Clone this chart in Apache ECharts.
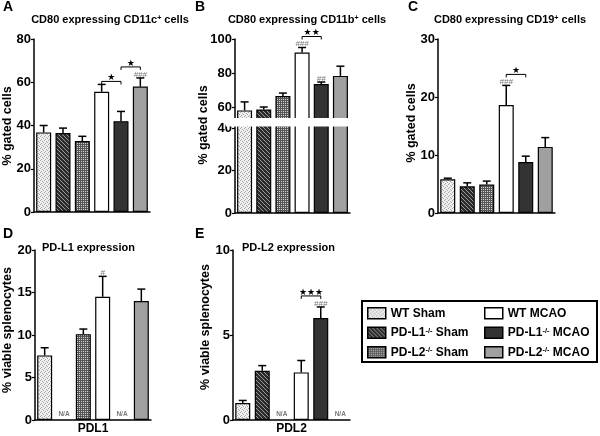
<!DOCTYPE html>
<html><head><meta charset="utf-8">
<script src="https://cdn.jsdelivr.net/npm/echarts@6/dist/echarts.min.js"></script>
<style>html,body{margin:0;padding:0;background:#fff}#c{width:600px;height:436px}</style>
</head><body><div id="c"></div>
<script>
// ---- data ----
const groups = ['WT Sham', 'PD-L1-/- Sham', 'PD-L2-/- Sham', 'WT MCAO', 'PD-L1-/- MCAO', 'PD-L2-/- MCAO'];

const cd11cMean = [36.8, 36.5, 32.8, 55.6, 42.0, 58.0];
const cd11cErr  = [40.0, 38.8, 35.0, 59.0, 46.5, 62.0];
const cd11bMean = [58.0, 58.5, 66.5, 92.0, 73.5, 78.3];
const cd11bErr  = [63.0, 60.0, 68.2, 95.0, 74.7, 84.0];
const cd19Mean  = [5.8, 4.6, 4.9, 18.6, 8.8, 11.4];
const cd19Err   = [6.0, 5.2, 5.5, 22.0, 9.8, 13.0];
const pdl1Mean  = [7.6, null, 10.1, 14.5, null, 14.0];
const pdl1Err   = [8.5, null, 10.7, 16.9, null, 15.4];
const pdl2Mean  = [1.0, 2.9, null, 2.8, 6.0, null];
const pdl2Err   = [1.15, 3.2, null, 3.5, 6.65, null];

const tickA = [0, 20, 40, 60, 80];
const tickBUpper = [60, 80, 100];
const tickBLower = [0, 20, 40];
const tickC = [0, 10, 20, 30];
const tickD = [0, 5, 10, 15, 20];
const tickE = [0, 5, 10];

const hashA = [[5, '###']];
const sigA  = [[3, 4, '★'], [4, 5, '★']];
const hashB = [[3, '###'], [4, '##']];
const sigB  = [[3, 4, '★★']];
const hashC = [[3, '###']];
const sigC  = [[3, 4, '★']];
const hashD = [[3, '#']];
const sigD  = [];
const hashE = [[4, '###']];
const sigE  = [[3, 4, '★★★']];

const titleA = 'CD80 expressing CD11c{sup|+} cells';
const titleB = 'CD80 expressing CD11b{sup|+} cells';
const titleC = 'CD80 expressing CD19{sup|+} cells';
const titleD = 'PD-L1 expression';
const titleE = 'PD-L2 expression';
const yNameTop = '% gated cells';
const yNameBottom = '% viable splenocytes';
const xNameD = 'PDL1';
const xNameE = 'PDL2';
const naText = 'N/A';

// ---- styles ----
const FONT = '"Liberation Sans", Arial, Helvetica, sans-serif';
function pat(bg, fg, pts) {
  const c = document.createElement('canvas');
  c.width = 4; c.height = 4;
  const g = c.getContext('2d');
  g.fillStyle = bg; g.fillRect(0, 0, 4, 4);
  g.fillStyle = fg;
  pts.forEach(p => g.fillRect(p[0], p[1], 1, 1));
  return { image: c, repeat: 'repeat' };
}
const fills = [
  pat('#f0f0f0', '#a8a8a8', [[0, 0], [2, 1], [1, 3], [3, 2]]),
  pat('#2b2b2b', '#9a9a9a', [[0, 0], [1, 1], [2, 2], [3, 3]]),
  pat('#555555', '#d4d4d4', [[1, 1], [3, 3], [1, 3], [3, 1]]),
  '#ffffff', '#333333', '#a0a0a0'
];

const panels = [
  { means: cd11cMean, errs: cd11cErr, hashes: hashA, sigs: sigA,
    axes: [{ left: 34, top: 39, width: 116, height: 173, min: 0, max: 80, ticks: tickA, xLine: true }] },
  { means: cd11bMean, errs: cd11bErr, hashes: hashB, sigs: sigB,
    axes: [{ left: 235, top: 39, width: 115, height: 85, min: 50, max: 100, ticks: tickBUpper, xLine: false },
           { left: 235, top: 123.75, width: 115, height: 89.25, min: 0, max: 42, ticks: tickBLower, xLine: true }] },
  { means: cd19Mean, errs: cd19Err, hashes: hashC, sigs: sigC,
    axes: [{ left: 438, top: 39, width: 117, height: 174, min: 0, max: 30, ticks: tickC, xLine: true }] },
  { means: pdl1Mean, errs: pdl1Err, hashes: hashD, sigs: sigD, na: true,
    axes: [{ left: 35, top: 250, width: 116, height: 174, min: 0, max: 20, ticks: tickD, xLine: true, xName: xNameD }] },
  { means: pdl2Mean, errs: pdl2Err, hashes: hashE, sigs: sigE, na: true,
    axes: [{ left: 233, top: 250, width: 117, height: 173, min: 0, max: 10, ticks: tickE, xLine: true, xName: xNameE }] }
];

const grids = [], xAxes = [], yAxes = [], series = [];
let ai = 0;
panels.forEach(p => {
  p.axes.forEach((a, k) => {
    grids.push({ left: a.left, top: a.top, width: a.width, height: a.height });
    xAxes.push({
      gridIndex: ai, type: 'category', data: groups,
      axisLine: { show: a.xLine, onZero: false, lineStyle: { color: '#000', width: 1.5 } },
      axisTick: { show: false }, axisLabel: { show: false }, splitLine: { show: false },
      name: a.xName || '', nameLocation: 'middle', nameGap: 3,
      nameTextStyle: { fontFamily: FONT, fontSize: 12, fontWeight: 'bold', color: '#000', verticalAlign: 'top' }
    });
    yAxes.push({
      gridIndex: ai, type: 'value', min: a.min, max: a.max,
      axisLine: { show: true, lineStyle: { color: '#000', width: 1.5 } },
      axisTick: { show: true, length: 3, customValues: a.ticks, lineStyle: { color: '#000', width: 1.2 } },
      axisLabel: { customValues: a.ticks, fontFamily: FONT, fontSize: 13, fontWeight: 'bold', color: '#000', margin: 3 },
      splitLine: { show: false }
    });
    groups.forEach((g, gi) => {
      series.push({
        type: 'bar', name: g, xAxisIndex: ai, yAxisIndex: ai,
        data: p.means.map((v, i) => (i === gi && v != null) ? v : '-'),
        barWidth: 15, barGap: '-100%', clip: true, silent: true, z: 2,
        itemStyle: { color: fills[gi], borderColor: '#000', borderWidth: 1.2 }
      });
    });
    if (k === 0) {
      const pp = p;
      // error bars
      series.push({
        type: 'custom', xAxisIndex: ai, yAxisIndex: ai, silent: true, z: 4,
        data: pp.means.map((v, i) => v == null ? null : [i, v, pp.errs[i]]).filter(Boolean),
        encode: { x: 0, y: 1 },
        renderItem: (params, api) => {
          const i = api.value(0);
          const a0 = api.coord([i, api.value(1)]);
          const b0 = api.coord([i, api.value(2)]);
          return { type: 'group', children: [
            { type: 'line', shape: { x1: a0[0], y1: a0[1], x2: b0[0], y2: b0[1] }, style: { stroke: '#000', lineWidth: 1.5 } },
            { type: 'line', shape: { x1: b0[0] - 4, y1: b0[1], x2: b0[0] + 4, y2: b0[1] }, style: { stroke: '#000', lineWidth: 1.5 } }
          ] };
        }
      });
      // hash marks
      series.push({
        type: 'custom', xAxisIndex: ai, yAxisIndex: ai, silent: true, z: 5,
        data: pp.hashes.map(h => [h[0], pp.errs[h[0]]]),
        encode: { x: 0, y: 1 },
        renderItem: (params, api) => {
          const c = api.coord([api.value(0), api.value(1)]);
          return { type: 'text', style: { text: pp.hashes[params.dataIndex][1], x: c[0], y: c[1] + 0.5,
            align: 'center', verticalAlign: 'bottom', fontSize: 8, fontStyle: 'italic', fontFamily: FONT, fill: '#777' } };
        }
      });
      // significance brackets
      const hasHash = i => pp.hashes.some(h => h[0] === i);
      series.push({
        type: 'custom', xAxisIndex: ai, yAxisIndex: ai, silent: true, z: 5,
        data: pp.sigs.map(s => [s[0], pp.errs[s[0]]]),
        encode: { x: 0, y: 1 },
        renderItem: (params, api) => {
          const s = pp.sigs[params.dataIndex];
          let top = Infinity;
          for (let i = s[0]; i <= s[1]; i++) {
            if (pp.errs[i] == null) continue;
            const y = api.coord([i, pp.errs[i]])[1] - (hasHash(i) ? 8 : 0);
            top = Math.min(top, y);
          }
          top -= 3;
          const x1 = api.coord([s[0], pp.errs[s[0]]])[0];
          const x2 = api.coord([s[1], pp.errs[s[1]]])[0];
          return { type: 'group', children: [
            { type: 'polyline', shape: { points: [[x1, top + 3], [x1, top], [x2, top], [x2, top + 3]] }, style: { stroke: '#000', lineWidth: 1, fill: 'none' } },
            { type: 'text', style: { text: s[2], x: (x1 + x2) / 2, y: top + 1, align: 'center', verticalAlign: 'bottom',
              fontSize: 9, fontFamily: '"DejaVu Sans", sans-serif', fill: '#000' } }
          ] };
        }
      });
      if (pp.na) {
        series.push({
          type: 'custom', xAxisIndex: ai, yAxisIndex: ai, silent: true, z: 5,
          data: pp.means.map((v, i) => v == null ? [i, 0] : null).filter(Boolean),
          encode: { x: 0, y: 1 },
          renderItem: (params, api) => {
            const c = api.coord([api.value(0), api.value(1)]);
            return { type: 'text', style: { text: naText, x: c[0], y: c[1] - 2, align: 'center', verticalAlign: 'bottom',
              fontSize: 6.5, fontWeight: 'bold', fontFamily: FONT, fill: '#777' } };
          }
        });
      }
    }
    ai++;
  });
});

const supRich = { sup: { fontSize: 7.5, fontWeight: 'bold', fontFamily: FONT, verticalAlign: 'top', fill: '#000', color: '#000' } };
function txt(text, x, y, size, align, vAlign, rot) {
  return { type: 'text', x: x, y: y, rotation: rot || 0, z: 100, silent: true,
    style: { text: text, x: 0, y: 0, align: align, verticalAlign: vAlign, fontFamily: FONT, fontSize: size,
      fontWeight: 'bold', fill: '#000', rich: { sup: { fontSize: size * 0.65, fontWeight: 'bold', fontFamily: FONT, verticalAlign: 'top', fill: '#000' } } } };
}

const graphic = [
  txt('A', 3, 0, 14, 'left', 'top'),
  txt('B', 195, 0, 14, 'left', 'top'),
  txt('C', 408, 0, 14, 'left', 'top'),
  txt('D', 3, 227, 14, 'left', 'top'),
  txt('E', 195, 227, 14, 'left', 'top'),
  txt(titleA, 110, 20, 11, 'center', 'middle'),
  txt(titleB, 307, 20, 11, 'center', 'middle'),
  txt(titleC, 510, 20, 11, 'center', 'middle'),
  txt(titleD, 42, 248, 11, 'left', 'middle'),
  txt(titleE, 242, 248, 11, 'left', 'middle'),
  txt(yNameTop, 8, 126, 12.5, 'center', 'middle', Math.PI / 2),
  txt(yNameTop, 204, 125, 12.5, 'center', 'middle', Math.PI / 2),
  txt(yNameTop, 412, 123, 12.5, 'center', 'middle', Math.PI / 2),
  txt(yNameBottom, 8, 330, 12.5, 'center', 'middle', Math.PI / 2),
  txt(yNameBottom, 206, 327, 12.5, 'center', 'middle', Math.PI / 2),
  { type: 'rect', z: 50, silent: true, shape: { x: 226, y: 118, width: 130, height: 8.5 }, style: { fill: '#fff' } },
  { type: 'rect', z: 50, silent: true, shape: { x: 362, y: 301, width: 235, height: 61 }, style: { fill: 'none', stroke: '#000', lineWidth: 2 } }
];

const legend = [0, 1].map(c => ({
  data: groups.slice(c * 3, c * 3 + 3), orient: 'vertical', left: c ? 484 : 367, top: 307,
  itemWidth: 18, itemHeight: 11, itemGap: 7, selectedMode: false, icon: 'rect', padding: 0,
  itemStyle: { borderColor: '#000', borderWidth: 1.5 },
  formatter: n => n.replace('-/-', '{sup|-/-}'),
  textStyle: { fontFamily: FONT, fontSize: 12, fontWeight: 'bold', color: '#000', lineHeight: 12, rich: supRich }
}));

const chart = echarts.init(document.getElementById('c'), null, { renderer: 'canvas' });
chart.setOption({
  animation: false, backgroundColor: '#fff',
  grid: grids, xAxis: xAxes, yAxis: yAxes, series: series, legend: legend, graphic: graphic
});
</script></body></html>
